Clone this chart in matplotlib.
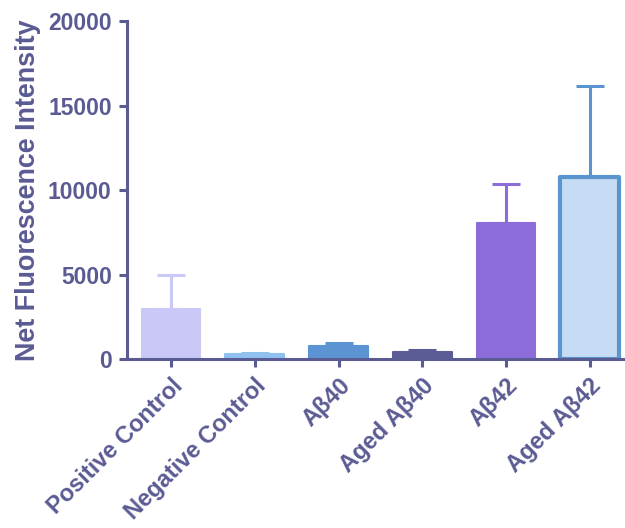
import matplotlib
matplotlib.use("Agg")
import matplotlib.pyplot as plt

categories = ["Positive Control", "Negative Control", "Aβ40", "Aged Aβ40", "Aβ42", "Aged Aβ42"]
means = [2950, 280, 770, 400, 8030, 10800]
errors = [2020, 60, 190, 130, 2330, 5380]
fills = ["#c9c8f7", "#8fc1f0", "#5c93d2", "#5b5b96", "#8b6cd8", "#c6dcf4"]
edges = ["#c9c8f7", "#8fc1f0", "#5c93d2", "#5b5b96", "#8b6cd8", "#5b95cf"]
edge_widths = [1.5, 1.5, 1.5, 1.5, 1.5, 3]
yticks = [0, 5000, 10000, 15000, 20000]

ink = "#5b5b94"
plt.rcParams["font.family"] = ["Liberation Sans", "DejaVu Sans"]
plt.rcParams["font.weight"] = "bold"

fig = plt.figure(figsize=(6.25, 5.28), dpi=100)
ax = fig.add_axes([0.2032, 0.320, 0.7968, 0.640])

x = list(range(len(categories)))
for i in x:
    ax.bar(i, means[i], width=0.70, color=fills[i], edgecolor=edges[i],
           linewidth=edge_widths[i], joinstyle="round", zorder=2)
    ax.errorbar(i, means[i], yerr=[[0], [errors[i]]], fmt="none",
                ecolor=edges[i], elinewidth=2.2, capsize=10, capthick=2.2, zorder=1)

ax.set_xlim(-0.525, 5.42)
ax.set_ylim(0, 20000)
ax.set_yticks(yticks)
ax.set_yticklabels([str(v) for v in yticks])
ax.set_xticks(x)
ax.set_xticklabels(categories, rotation=45, ha="right", rotation_mode="anchor")

for side in ("top", "right"):
    ax.spines[side].set_visible(False)
for side in ("left", "bottom"):
    ax.spines[side].set_color(ink)
    ax.spines[side].set_linewidth(2.2)

ax.tick_params(axis="both", colors=ink, width=2.2, length=6)
ax.tick_params(axis="y", labelsize=16.5, pad=5)
ax.tick_params(axis="x", labelsize=17, pad=5)
for lab in ax.get_xticklabels() + ax.get_yticklabels():
    lab.set_fontweight("bold")
    lab.set_color(ink)

ax.set_ylabel("Net Fluorescence Intensity", fontsize=19.4, fontweight="bold",
              color=ink, labelpad=5)

fig.savefig("out.png", dpi=100)
